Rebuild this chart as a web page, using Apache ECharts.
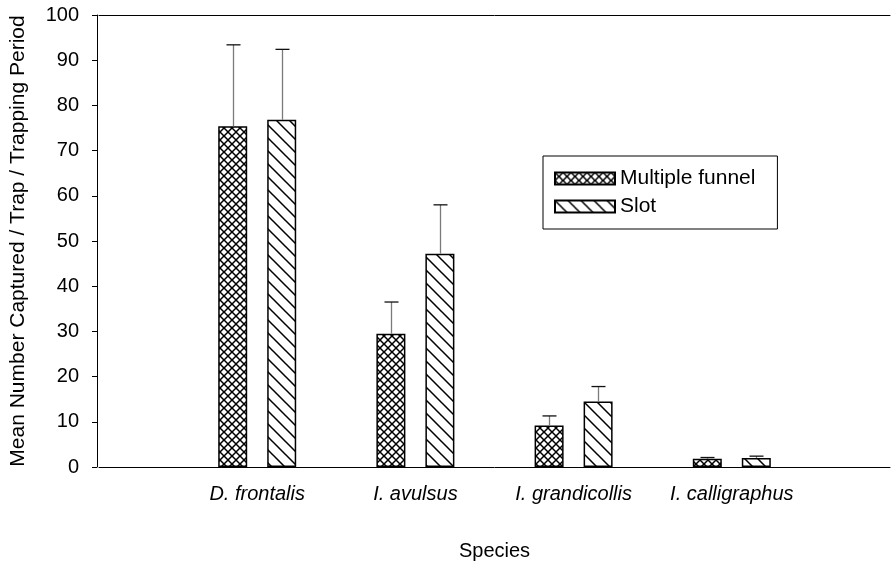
<!DOCTYPE html>
<html>
<head>
<meta charset="utf-8">
<script src="https://cdn.jsdelivr.net/npm/echarts@6/dist/echarts.min.js"></script>
<style>
html,body{margin:0;padding:0;background:#fff;}
#chart{width:893px;height:568px;}
</style>
</head>
<body>
<div id="chart"></div>
<script>
var species = ['D. frontalis', 'I. avulsus', 'I. grandicollis', 'I. calligraphus'];
var funnelMean = [75.4, 29.5, 9.2, 1.8];
var funnelErr = [18.0, 7.0, 2.1, 0.3];
var slotMean = [76.8, 47.2, 14.5, 2.0];
var slotErr = [15.6, 10.8, 3.3, 0.4];
var yTicks = [0, 10, 20, 30, 40, 50, 60, 70, 80, 90, 100];

var FONT = 'Liberation Sans, Arial, sans-serif';
var FS = 20;
var BAR_W = 29, GAP_PX = 20;

function makePattern(size, drawFn) {
  var c = document.createElement('canvas');
  c.width = size; c.height = size;
  var ctx = c.getContext('2d');
  ctx.fillStyle = '#fff';
  ctx.fillRect(0, 0, size, size);
  ctx.strokeStyle = '#000';
  ctx.lineWidth = 1.5;
  drawFn(ctx, size);
  return {image: c, repeat: 'repeat'};
}
var crossPattern = makePattern(8, function (ctx, s) {
  ctx.beginPath();
  ctx.moveTo(-1, -1); ctx.lineTo(s + 1, s + 1);
  ctx.moveTo(s + 1, -1); ctx.lineTo(-1, s + 1);
  ctx.stroke();
});
var slotPattern = makePattern(13, function (ctx, s) {
  ctx.beginPath();
  ctx.moveTo(-2, -2); ctx.lineTo(s + 2, s + 2);
  ctx.moveTo(-2, s - 2); ctx.lineTo(2, s + 2);
  ctx.moveTo(s - 2, -2); ctx.lineTo(s + 2, 2);
  ctx.stroke();
});

// category axis with empty end points so groups sit at positions 1..4 of 0..5
var cats = [''].concat(species).concat(['']);
function pad(arr) { return [null].concat(arr).concat([null]); }

function errData(mean, err) {
  return mean.map(function (m, i) { return [i + 1, m, m + err[i]]; });
}

function errRender(sign) {
  return function (params, api) {
    var off = sign * (BAR_W + GAP_PX) / 2;
    var base = api.coord([api.value(0), api.value(1)]);
    var top = api.coord([api.value(0), api.value(2)]);
    var x = Math.round(base[0] + off) + 0.5;
    return {
      type: 'group',
      children: [
        {type: 'line', shape: {x1: x, y1: base[1], x2: x, y2: top[1]},
         style: {stroke: '#7a7a7a', lineWidth: 1.3}},
        {type: 'line', shape: {x1: x - 7, y1: top[1], x2: x + 7, y2: top[1]},
         style: {stroke: '#111', lineWidth: 1.3}}
      ]
    };
  };
}

var chart = echarts.init(document.getElementById('chart'));
chart.setOption({
  animation: false,
  backgroundColor: '#fff',
  textStyle: {fontFamily: FONT},
  grid: {left: 99, right: -2, top: 15, bottom: 101},
  legend: {
    orient: 'vertical',
    left: 543, top: 156,
    padding: [12, 22, 12, 11],
    itemGap: 7,
    itemWidth: 60, itemHeight: 12,
    icon: 'rect',
    borderColor: '#000', borderWidth: 1,
    textStyle: {fontFamily: FONT, fontSize: 21, color: '#000'},
    data: ['Multiple funnel', 'Slot']
  },
  xAxis: [{
    type: 'category',
    data: cats,
    boundaryGap: false,
    axisLine: {lineStyle: {color: '#000', width: 1}},
    axisTick: {show: false},
    axisLabel: {fontFamily: FONT, fontSize: FS, fontStyle: 'italic', color: '#000', margin: 17, interval: 0},
    name: 'Species', nameLocation: 'middle', nameGap: 74,
    nameTextStyle: {fontFamily: FONT, fontSize: FS, color: '#000'}
  }, {
    type: 'category',
    data: cats,
    boundaryGap: false,
    position: 'top',
    axisLine: {lineStyle: {color: '#000', width: 1}},
    axisTick: {show: false},
    axisLabel: {show: false}
  }],
  yAxis: {
    type: 'value',
    offset: 2,
    min: yTicks[0], max: yTicks[yTicks.length - 1], interval: yTicks[1] - yTicks[0],
    splitLine: {show: false},
    axisLine: {show: true, lineStyle: {color: '#000', width: 1}},
    axisTick: {show: true, length: 5, lineStyle: {color: '#000'}},
    axisLabel: {fontFamily: FONT, fontSize: FS, color: '#000', margin: 18},
    name: 'Mean Number Captured / Trap / Trapping Period',
    nameLocation: 'middle', nameGap: 68, nameRotate: 90,
    nameTextStyle: {fontFamily: FONT, fontSize: 21, color: '#000'}
  },
  series: [{
    name: 'Multiple funnel', type: 'bar',
    data: pad(funnelMean),
    barWidth: BAR_W, barGap: (GAP_PX / BAR_W * 100) + '%',
    itemStyle: {color: crossPattern, borderColor: '#000', borderWidth: 1.5}
  }, {
    name: 'Slot', type: 'bar',
    data: pad(slotMean),
    barWidth: BAR_W,
    itemStyle: {color: slotPattern, borderColor: '#000', borderWidth: 1.5}
  }, {
    type: 'custom', name: 'funnelErr',
    data: errData(funnelMean, funnelErr),
    renderItem: errRender(-1), z: 5
  }, {
    type: 'custom', name: 'slotErr',
    data: errData(slotMean, slotErr),
    renderItem: errRender(1), z: 5
  }]
});
</script>
</body>
</html>
